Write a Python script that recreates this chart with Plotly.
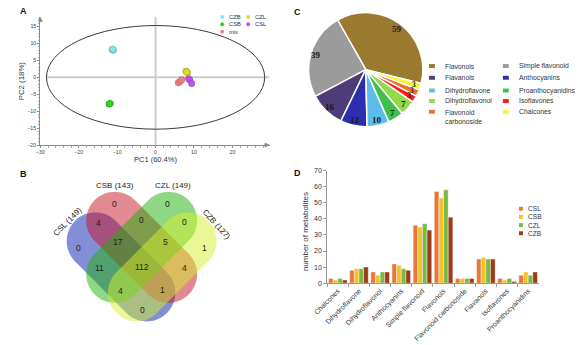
import math
import plotly.graph_objects as go

W, H = 580, 345
SANS = "Liberation Sans, Arial, sans-serif"
SERIF = "Liberation Serif, Times New Roman, serif"

# ---------------- A: PCA score plot ----------------
pca_groups = ["CZB", "CSB", "mix", "CZL", "CSL"]
pca_colors = ["#7fe9ef", "#33d41f", "#ef7f7f", "#dede1c", "#c252ef"]
pc1_scores = {
    "CZB": [-11.3, -11.0, -11.1],
    "CSB": [-12.1, -11.8, -12.0],
    "mix": [5.9, 6.4, 6.8],
    "CZL": [7.9, 8.3, 8.1],
    "CSL": [8.6, 8.9, 9.4],
}
pc2_scores = {
    "CZB": [8.2, 8.0, 8.3],
    "CSB": [-7.9, -7.7, -7.8],
    "mix": [-1.6, -1.25, -0.7],
    "CZL": [1.8, 1.4, 1.6],
    "CSL": [-0.4, -0.8, -1.8],
}
pc1_label = "PC1 (60.4%)"
pc2_label = "PC2 (18%)"
ellipse_a, ellipse_b = 28.4, 15.3   # Hotelling T2 ellipse semi-axes
pc1_range = [-30, 29.7]
pc2_range = [-20, 17.9]

# ---------------- B: Venn diagram ----------------
venn_sets = ["CSL", "CSB", "CZL", "CZB"]
venn_totals = [149, 143, 149, 127]
venn_fill = ["rgba(10,30,175,0.5)", "rgba(200,20,35,0.5)",
             "rgba(30,178,10,0.5)", "rgba(212,240,45,0.5)"]
venn_counts = {
    "CSB": 0, "CZL": 0, "CSL&CSB": 4, "CSB&CZL": 0, "CZL&CZB": 0,
    "CSL": 0, "CSL&CSB&CZL": 17, "CSB&CZL&CZB": 5, "CZB": 1,
    "CSL&CZL": 11, "CSL&CSB&CZL&CZB": 112, "CSB&CZB": 4,
    "CSL&CZL&CZB": 4, "CSL&CSB&CZB": 1, "CSL&CZB": 0,
}

# ---------------- C: class composition pie ----------------
pie_labels = ["Flavonols", "Simple flavonoid", "Flavanols", "Anthocyanins",
              "Dihydroflavone", "Proanthocyanidins", "Dihydroflavonol",
              "Isoflavones", "Flavonoid<br>carbonoside", "Chalcones"]
pie_values = [59, 39, 16, 12, 10, 7, 7, 3, 3, 3]
pie_colors = ["#9a7a2e", "#9b9b9b", "#4d3b7a", "#2b2fae", "#5cbdea",
              "#3fbf4c", "#92d94c", "#ff1c1c", "#f2702e", "#f5f53c"]

# ---------------- D: metabolites per class ----------------
bar_categories = ["Chalcones", "Dihydroflavone", "Dihydroflavonol", "Anthocyanins",
                  "Simple flavonoid", "Flavonols", "Flavonoid carbonoside",
                  "Flavanols", "Isoflavones", "Proanthocyanidins"]
bar_series = ["CSL", "CSB", "CZL", "CZB"]
bar_colors = ["#e9773a", "#f2c22e", "#7cb846", "#9b3c16"]
csl_counts = [3, 8, 7, 12, 36, 57, 3, 15, 3, 5]
csb_counts = [2, 9, 5, 11, 35, 53, 3, 16, 2, 7]
czl_counts = [3, 9, 7, 9, 37, 58, 3, 15, 3, 5]
czb_counts = [2, 10, 7, 8, 33, 41, 3, 15, 1, 7]
bar_values = [csl_counts, csb_counts, czl_counts, czb_counts]


def px(x):
    return x / W


def py(y):
    return 1 - y / H


annotations = []
shapes = []


def note(text, x, y, size, color="#222", family=SANS, xanchor="center", yanchor="middle", **kw):
    annotations.append(dict(text=text, x=px(x), y=py(y), xref="paper", yref="paper",
                            showarrow=False, xanchor=xanchor, yanchor=yanchor,
                            font=dict(size=size, family=family, color=color), **kw))


fig = go.Figure()

# ---- A ----
for g, c in zip(pca_groups, pca_colors):
    fig.add_trace(go.Scatter(
        x=pc1_scores[g], y=pc2_scores[g], mode="markers", name=g,
        marker=dict(size=6.5, color=c, line=dict(width=0.6, color="rgba(0,0,0,0.25)")),
        xaxis="x", yaxis="y", showlegend=False))

A_dom_x = [px(27), px(262)]
A_dom_y = [py(144), py(13)]
axis_common = dict(showgrid=False, zeroline=False, showline=True, linecolor="#8a8a8a",
                   linewidth=1, ticks="outside", ticklen=2, tickcolor="#8a8a8a",
                   tickfont=dict(size=5.3, family=SANS, color="#444"))
fig.update_layout(
    xaxis=dict(domain=A_dom_x, range=pc1_range, anchor="y", tickvals=[-30, -20, -10, 0, 10, 20],
               minor=dict(ticks="outside", ticklen=1.5, dtick=2, tickcolor="#aaa"), **axis_common),
    yaxis=dict(domain=A_dom_y, range=pc2_range, anchor="x",
               tickvals=[-20, -15, -10, -5, 0, 5, 10, 15],
               minor=dict(ticks="outside", ticklen=1.5, dtick=1, tickcolor="#aaa"), **axis_common),
)
# crosshair through the origin and confidence ellipse
shapes.append(dict(type="line", xref="x", yref="y", x0=-ellipse_a, x1=pc1_range[1], y0=0, y1=0,
                   line=dict(color="#cccccc", width=2), layer="below"))
shapes.append(dict(type="line", xref="x", yref="y", x0=0, x1=0, y0=pc2_range[0], y1=pc2_range[1],
                   line=dict(color="#cccccc", width=2), layer="below"))
shapes.append(dict(type="circle", xref="x", yref="y", x0=-ellipse_a, x1=ellipse_a,
                   y0=-ellipse_b, y1=ellipse_b, line=dict(color="#3a3a3a", width=1)))
# axis arrowheads
annotations.append(dict(x=pc1_range[1], y=pc2_range[0], xref="x", yref="y", ax=-7, ay=0,
                        showarrow=True, arrowhead=2, arrowsize=1, arrowwidth=1,
                        arrowcolor="#8a8a8a", text=""))
annotations.append(dict(x=pc1_range[0], y=pc2_range[1], xref="x", yref="y", ax=0, ay=7,
                        showarrow=True, arrowhead=2, arrowsize=1, arrowwidth=1,
                        arrowcolor="#8a8a8a", text=""))
note(pc1_label, 145, 158.5, 7.5, color="#333")
note(pc2_label, 8, 78, 7.8, color="#333", textangle=-90)
# legend for A (two columns)
legA_pos = {"CZB": (213.3, 13.3), "CZL": (240, 13.3), "CSB": (213.3, 20.7),
            "CSL": (240, 20.7), "mix": (213.3, 28.2)}
for g, c in zip(pca_groups, pca_colors):
    x, y = legA_pos[g]
    shapes.append(dict(type="circle", xref="paper", yref="paper", x0=px(x - 2), x1=px(x + 2),
                       y0=py(y + 2), y1=py(y - 2), fillcolor=c, line=dict(width=0)))
    note(g, x + 4.5, y, 5.8, color="#333", xanchor="left")

# ---- B: Venn capsules ----
R = 29.3
caps = [((83.3, 242.0), (136.0, 294.7)),
        ((103.3, 221.0), (158.3, 275.7)),
        ((158.3, 221.0), (103.3, 275.7)),
        ((178.3, 242.0), (125.6, 294.7))]


def capsule_path(p1, p2, r, n=40):
    dx, dy = p2[0] - p1[0], p2[1] - p1[1]
    L = math.hypot(dx, dy)
    ux, uy = dx / L, dy / L
    nx, ny = -uy, ux
    pts = []
    for i in range(n + 1):
        t = math.radians(-90 + 180 * i / n)
        pts.append((p2[0] + r * (math.cos(t) * ux + math.sin(t) * nx),
                    p2[1] + r * (math.cos(t) * uy + math.sin(t) * ny)))
    for i in range(n + 1):
        t = math.radians(90 + 180 * i / n)
        pts.append((p1[0] + r * (math.cos(t) * ux + math.sin(t) * nx),
                    p1[1] + r * (math.cos(t) * uy + math.sin(t) * ny)))
    return "M " + " L ".join(f"{px(x):.5f},{py(y):.5f}" for x, y in pts) + " Z"


for (p1, p2), col in zip(caps, venn_fill):
    shapes.append(dict(type="path", xref="paper", yref="paper", path=capsule_path(p1, p2, R),
                       fillcolor=col, line=dict(width=0), layer="above"))

venn_label_pos = {
    "CSB": (103.3, 204), "CZL": (157.3, 204), "CSL&CSB": (86.7, 224), "CSB&CZL": (131, 220),
    "CZL&CZB": (174.3, 222.7), "CSL": (66, 249.3), "CSL&CSB&CZL": (106.7, 242.7),
    "CSB&CZL&CZB": (155, 243.3), "CZB": (195.7, 249.3), "CSL&CZL": (87.3, 269.3),
    "CSL&CSB&CZL&CZB": (130.7, 268.7), "CSB&CZB": (175, 269.3), "CSL&CZL&CZB": (109.3, 292.7),
    "CSL&CSB&CZB": (152.3, 292), "CSL&CZB": (131.7, 312.7),
}
for key, val in venn_counts.items():
    x, y = venn_label_pos[key]
    note(str(val), x, y, 8.5, color="#222")
set_title_pos = [(55, 221.7, -45), (103.3, 185, 0), (163.3, 185, 0), (207.5, 225, 48)]
for name, tot, (x, y, ang) in zip(venn_sets, venn_totals, set_title_pos):
    note(f"{name} ({tot})", x, y, 8, color="#222", textangle=ang)

# ---- C: pie ----
pie_cx, pie_cy, pie_r = 360.5, 67.0, 58.5
pie_start = -14.0   # polar angle (deg, counterclockwise from east) where the first slice begins
total = sum(pie_values)
# plotly places the first counterclockwise slice clockwise of `rotation` (measured from 12 o'clock)
pie_rotation = 90 - pie_start - 360 * pie_values[0] / total
fig.add_trace(go.Pie(
    labels=pie_labels, values=pie_values, sort=False, direction="counterclockwise",
    rotation=pie_rotation, textinfo="none", showlegend=False,
    marker=dict(colors=pie_colors, line=dict(color="white", width=1.5)),
    domain=dict(x=[px(pie_cx - pie_r), px(pie_cx + pie_r)],
                y=[py(pie_cy + pie_r), py(pie_cy - pie_r)])))
cum = 0
for v in pie_values:
    mid = math.radians(pie_start + (cum + v / 2) / total * 360)
    cum += v
    small = v < 5
    rr = (0.88 if small else 0.9) * pie_r
    note(f"<b>{v}</b>", pie_cx + rr * math.cos(mid), pie_cy - rr * math.sin(mid),
         7.5 if small else 9, color="#1a1a1a", family=SERIF)

# pie legend, two columns
legC_cols = [(428.3, 439.3), (504.0, 515.0)]
legC_rows = [63.3, 75.3, 88.3, 99.0, 110.0]
for i, (lab, col) in enumerate(zip(pie_labels, pie_colors)):
    sx, tx = legC_cols[i % 2]
    y = legC_rows[i // 2]
    shapes.append(dict(type="rect", xref="paper", yref="paper", x0=px(sx - 3), x1=px(sx + 3),
                       y0=py(y + 2), y1=py(y - 2), fillcolor=col, line=dict(width=0)))
    if "<br>" in lab:
        note(lab, tx, y - 4.6, 6.8, color="#333", xanchor="left", yanchor="top", align="left")
    else:
        note(lab, tx, y, 6.8, color="#333", xanchor="left")

# ---- D: grouped bars ----
for name, vals, col in zip(bar_series, bar_values, bar_colors):
    fig.add_trace(go.Bar(x=bar_categories, y=vals, name=name, xaxis="x2", yaxis="y2",
                         marker=dict(color=col, line=dict(color="rgba(255,255,255,0.7)", width=0.6)),
                         showlegend=False))
fig.update_layout(
    xaxis2=dict(domain=[px(321), px(537.7)], anchor="y2", type="category",
                range=[-0.5, len(bar_categories) - 0.5], showline=True, linecolor="#999",
                ticks="outside", tickson="boundaries", ticklen=3, tickcolor="#999",
                tickangle=-45, tickfont=dict(size=7, family=SANS, color="#333"), showgrid=False),
    yaxis2=dict(domain=[py(285), py(170)], anchor="x2", range=[0, 70], dtick=10,
                showline=True, linecolor="#999", ticks="outside", ticklen=3, tickcolor="#999",
                tickfont=dict(size=7, family=SANS, color="#333"), showgrid=False, zeroline=False),
    barmode="group", bargap=0.12, bargroupgap=0,
)
note("number of metabolites", 298, 232, 8, color="#333", textangle=-90)
legD_rows = [209.0, 217.3, 225.7, 234.0]
for name, col, y in zip(bar_series, bar_colors, legD_rows):
    shapes.append(dict(type="rect", xref="paper", yref="paper", x0=px(517.5), x1=px(521.5),
                       y0=py(y + 2), y1=py(y - 2), fillcolor=col, line=dict(width=0)))
    note(name, 525, y, 6.6, color="#333", xanchor="left")

# panel letters
for letter, x, y in [("A", 10, 7), ("B", 10, 173.5), ("C", 290, 8.5), ("D", 290, 172.5)]:
    note(f"<b>{letter}</b>", x, y, 9, color="#111")

fig.update_layout(
    width=W, height=H, autosize=False, margin=dict(l=0, r=0, t=0, b=0),
    paper_bgcolor="white", plot_bgcolor="rgba(0,0,0,0)", showlegend=False,
    shapes=shapes, annotations=annotations,
)
fig.write_html("out.html")
